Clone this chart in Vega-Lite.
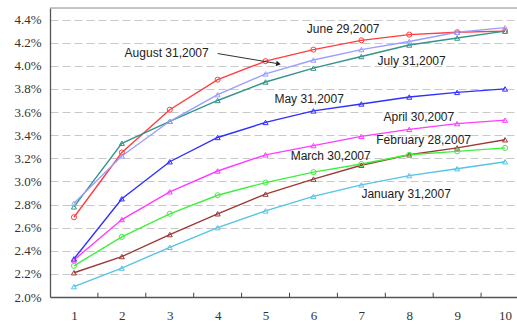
{
  "$schema": "https://vega.github.io/schema/vega-lite/v6.json",
  "width": 467,
  "height": 289,
  "autosize": {"type": "none"},
  "padding": {"left": 50, "top": 8, "right": 0, "bottom": 27},
  "background": "white",
  "config": {
    "view": {"stroke": null},
    "axis": {"labelOverlap": false, "labelSeparation": 0, "title": null},
    "axisY": {
      "ticks": false,
      "grid": true,
      "gridDash": [8, 4],
      "gridColor": "#c8c8c8",
      "gridWidth": 1,
      "domainColor": "#555",
      "domainWidth": 1.3,
      "labelFont": "Liberation Serif",
      "labelFontSize": 13,
      "labelColor": "#333",
      "labelPadding": 9,
      "labelOverlap": false,
      "labelFlush": false
    },
    "axisX": {
      "ticks": false,
      "grid": false,
      "domainColor": "#555",
      "domainWidth": 1.3,
      "labelFont": "Liberation Serif",
      "labelFontSize": 13,
      "labelColor": "#333",
      "labelPadding": 12,
      "labelOverlap": false,
      "labelFlush": false
    }
  },
  "datasets": {
    "curves": [
      {"date": "January 31,2007", "term": 1, "yield": 0.0209},
      {"date": "January 31,2007", "term": 2, "yield": 0.0225},
      {"date": "January 31,2007", "term": 3, "yield": 0.0243},
      {"date": "January 31,2007", "term": 4, "yield": 0.0260},
      {"date": "January 31,2007", "term": 5, "yield": 0.02745},
      {"date": "January 31,2007", "term": 6, "yield": 0.0287},
      {"date": "January 31,2007", "term": 7, "yield": 0.0297},
      {"date": "January 31,2007", "term": 8, "yield": 0.0305},
      {"date": "January 31,2007", "term": 9, "yield": 0.0311},
      {"date": "January 31,2007", "term": 10, "yield": 0.0317},
      {"date": "February 28,2007", "term": 1, "yield": 0.0221},
      {"date": "February 28,2007", "term": 2, "yield": 0.0235},
      {"date": "February 28,2007", "term": 3, "yield": 0.0254},
      {"date": "February 28,2007", "term": 4, "yield": 0.0272},
      {"date": "February 28,2007", "term": 5, "yield": 0.0289},
      {"date": "February 28,2007", "term": 6, "yield": 0.0302},
      {"date": "February 28,2007", "term": 7, "yield": 0.0314},
      {"date": "February 28,2007", "term": 8, "yield": 0.0323},
      {"date": "February 28,2007", "term": 9, "yield": 0.0329},
      {"date": "February 28,2007", "term": 10, "yield": 0.0336},
      {"date": "March 30,2007", "term": 1, "yield": 0.0227},
      {"date": "March 30,2007", "term": 2, "yield": 0.0252},
      {"date": "March 30,2007", "term": 3, "yield": 0.0272},
      {"date": "March 30,2007", "term": 4, "yield": 0.0288},
      {"date": "March 30,2007", "term": 5, "yield": 0.0299},
      {"date": "March 30,2007", "term": 6, "yield": 0.0308},
      {"date": "March 30,2007", "term": 7, "yield": 0.0315},
      {"date": "March 30,2007", "term": 8, "yield": 0.0323},
      {"date": "March 30,2007", "term": 9, "yield": 0.0326},
      {"date": "March 30,2007", "term": 10, "yield": 0.0329},
      {"date": "April 30,2007", "term": 1, "yield": 0.0232},
      {"date": "April 30,2007", "term": 2, "yield": 0.0267},
      {"date": "April 30,2007", "term": 3, "yield": 0.0291},
      {"date": "April 30,2007", "term": 4, "yield": 0.0309},
      {"date": "April 30,2007", "term": 5, "yield": 0.0323},
      {"date": "April 30,2007", "term": 6, "yield": 0.0331},
      {"date": "April 30,2007", "term": 7, "yield": 0.0339},
      {"date": "April 30,2007", "term": 8, "yield": 0.0345},
      {"date": "April 30,2007", "term": 9, "yield": 0.0350},
      {"date": "April 30,2007", "term": 10, "yield": 0.0353},
      {"date": "May 31,2007", "term": 1, "yield": 0.0233},
      {"date": "May 31,2007", "term": 2, "yield": 0.0285},
      {"date": "May 31,2007", "term": 3, "yield": 0.0317},
      {"date": "May 31,2007", "term": 4, "yield": 0.0338},
      {"date": "May 31,2007", "term": 5, "yield": 0.0351},
      {"date": "May 31,2007", "term": 6, "yield": 0.0361},
      {"date": "May 31,2007", "term": 7, "yield": 0.0367},
      {"date": "May 31,2007", "term": 8, "yield": 0.0373},
      {"date": "May 31,2007", "term": 9, "yield": 0.0377},
      {"date": "May 31,2007", "term": 10, "yield": 0.0380},
      {"date": "June 29,2007", "term": 1, "yield": 0.0269},
      {"date": "June 29,2007", "term": 2, "yield": 0.0325},
      {"date": "June 29,2007", "term": 3, "yield": 0.0362},
      {"date": "June 29,2007", "term": 4, "yield": 0.0388},
      {"date": "June 29,2007", "term": 5, "yield": 0.0404},
      {"date": "June 29,2007", "term": 6, "yield": 0.0414},
      {"date": "June 29,2007", "term": 7, "yield": 0.0422},
      {"date": "June 29,2007", "term": 8, "yield": 0.0427},
      {"date": "June 29,2007", "term": 9, "yield": 0.0429},
      {"date": "June 29,2007", "term": 10, "yield": 0.0430},
      {"date": "July 31,2007", "term": 1, "yield": 0.0278},
      {"date": "July 31,2007", "term": 2, "yield": 0.0333},
      {"date": "July 31,2007", "term": 3, "yield": 0.0352},
      {"date": "July 31,2007", "term": 4, "yield": 0.0370},
      {"date": "July 31,2007", "term": 5, "yield": 0.0386},
      {"date": "July 31,2007", "term": 6, "yield": 0.0398},
      {"date": "July 31,2007", "term": 7, "yield": 0.0408},
      {"date": "July 31,2007", "term": 8, "yield": 0.0418},
      {"date": "July 31,2007", "term": 9, "yield": 0.0424},
      {"date": "July 31,2007", "term": 10, "yield": 0.0430},
      {"date": "August 31,2007", "term": 1, "yield": 0.0281},
      {"date": "August 31,2007", "term": 2, "yield": 0.0322},
      {"date": "August 31,2007", "term": 3, "yield": 0.0352},
      {"date": "August 31,2007", "term": 4, "yield": 0.0375},
      {"date": "August 31,2007", "term": 5, "yield": 0.0393},
      {"date": "August 31,2007", "term": 6, "yield": 0.0405},
      {"date": "August 31,2007", "term": 7, "yield": 0.0414},
      {"date": "August 31,2007", "term": 8, "yield": 0.0421},
      {"date": "August 31,2007", "term": 9, "yield": 0.0429},
      {"date": "August 31,2007", "term": 10, "yield": 0.0433}
    ],
    "labels": [
      {"label": "June 29,2007", "term": 6.62, "yield": 0.04318},
      {"label": "August 31,2007", "term": 2.935, "yield": 0.0411},
      {"label": "July 31,2007", "term": 8.05, "yield": 0.0404},
      {"label": "May 31,2007", "term": 5.91, "yield": 0.0371},
      {"label": "April 30,2007", "term": 8.2, "yield": 0.03556},
      {"label": "February 28,2007", "term": 8.3, "yield": 0.03357},
      {"label": "March 30,2007", "term": 6.36, "yield": 0.03218},
      {"label": "January 31,2007", "term": 7.935, "yield": 0.02887}
    ],
    "arrow": [
      {"term": 4.0, "yield": 0.04106, "term2": 5.22, "yield2": 0.04021}
    ],
    "arrowhead": [
      {"term": 5.27, "yield": 0.04016}
    ],
    "frame": [
      {"yield": 0.045}
    ],
    "termTicks": [
      {"term": 1.5, "yield": 0.02, "yield2": 0.02037},
      {"term": 2.5, "yield": 0.02, "yield2": 0.02037},
      {"term": 3.5, "yield": 0.02, "yield2": 0.02037},
      {"term": 4.5, "yield": 0.02, "yield2": 0.02037},
      {"term": 5.5, "yield": 0.02, "yield2": 0.02037},
      {"term": 6.5, "yield": 0.02, "yield2": 0.02037},
      {"term": 7.5, "yield": 0.02, "yield2": 0.02037},
      {"term": 8.5, "yield": 0.02, "yield2": 0.02037},
      {"term": 9.5, "yield": 0.02, "yield2": 0.02037}
    ]
  },
  "layer": [
    {
      "data": {"name": "curves"},
      "mark": {"type": "line", "strokeWidth": 1.4},
      "encoding": {
        "x": {
          "field": "term",
          "type": "quantitative",
          "scale": {"domain": [0.5, 10.5], "range": [0, 479], "nice": false, "zero": false},
          "axis": {
            "title": null,
            "values": [1, 2, 3, 4, 5, 6, 7, 8, 9, 10],
            "format": "d",
            "labelFont": "Liberation Serif",
            "labelOverlap": false
          }
        },
        "y": {
          "field": "yield",
          "type": "quantitative",
          "scale": {"domain": [0.02, 0.045], "nice": false, "zero": false},
          "axis": {
            "title": null,
            "values": [0.02, 0.022, 0.024, 0.026, 0.028, 0.03, 0.032, 0.034, 0.036, 0.038, 0.04, 0.042, 0.044],
            "tickCount": 13,
            "format": ".1%",
            "labelFont": "Liberation Serif",
            "labelOverlap": false
          }
        },
        "color": {
          "field": "date",
          "type": "nominal",
          "scale": {
            "domain": ["January 31,2007", "February 28,2007", "March 30,2007", "April 30,2007", "May 31,2007", "June 29,2007", "July 31,2007", "August 31,2007"],
            "range": ["#55c4e6", "#9c3a36", "#3df03d", "#ff3cff", "#2f2fff", "#ff3d3d", "#33958a", "#9d9dff"]
          },
          "legend": null
        }
      }
    },
    {
      "data": {"name": "curves"},
      "mark": {"type": "point", "filled": false, "size": 26, "strokeWidth": 1, "opacity": 1},
      "encoding": {
        "x": {"field": "term", "type": "quantitative"},
        "y": {"field": "yield", "type": "quantitative"},
        "color": {"field": "date", "type": "nominal", "legend": null},
        "shape": {
          "field": "date",
          "type": "nominal",
          "scale": {
            "domain": ["January 31,2007", "February 28,2007", "March 30,2007", "April 30,2007", "May 31,2007", "June 29,2007", "July 31,2007", "August 31,2007"],
            "range": ["triangle-up", "triangle-up", "circle", "triangle-up", "triangle-up", "circle", "triangle-up", "triangle-up"]
          },
          "legend": null
        }
      }
    },
    {
      "data": {"name": "termTicks"},
      "mark": {"type": "rule", "color": "#444", "strokeWidth": 1},
      "encoding": {
        "x": {"field": "term", "type": "quantitative"},
        "y": {"field": "yield", "type": "quantitative"},
        "y2": {"field": "yield2"}
      }
    },
    {
      "data": {"name": "frame"},
      "mark": {"type": "rule", "color": "#8a8a8a", "strokeWidth": 1},
      "encoding": {
        "y": {"field": "yield", "type": "quantitative"}
      }
    },
    {
      "data": {"name": "arrow"},
      "mark": {"type": "rule", "color": "#333", "strokeWidth": 1},
      "encoding": {
        "x": {"field": "term", "type": "quantitative"},
        "y": {"field": "yield", "type": "quantitative"},
        "x2": {"field": "term2"},
        "y2": {"field": "yield2"}
      }
    },
    {
      "data": {"name": "arrowhead"},
      "mark": {"type": "point", "shape": "triangle-right", "angle": 10, "size": 30, "filled": true, "color": "#222", "opacity": 1},
      "encoding": {
        "x": {"field": "term", "type": "quantitative"},
        "y": {"field": "yield", "type": "quantitative"}
      }
    },
    {
      "data": {"name": "labels"},
      "mark": {"type": "text", "font": "Liberation Sans", "fontSize": 12, "color": "#222", "align": "center", "baseline": "middle"},
      "encoding": {
        "x": {"field": "term", "type": "quantitative"},
        "y": {"field": "yield", "type": "quantitative"},
        "text": {"field": "label"}
      }
    }
  ]
}
